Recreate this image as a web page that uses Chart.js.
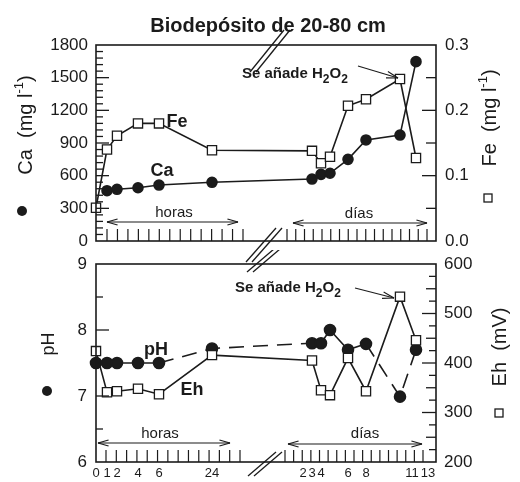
<!DOCTYPE html>
<html>
<head>
<meta charset="utf-8">
<script src="https://cdn.jsdelivr.net/npm/chart.js@4.4.1/dist/chart.umd.min.js"></script>
<style>
  html, body { margin: 0; padding: 0; background: #fff; }
  #lienzo { position: relative; width: 520px; height: 482px; }
  canvas { position: absolute; left: 0; }
  #arriba { top: 0; }
  #abajo { top: 250px; }
</style>
</head>
<body>
<div id="lienzo">
  <canvas id="arriba" width="520" height="266"></canvas>
  <canvas id="abajo" width="520" height="232"></canvas>
</div>
<script>
// tiempos de muestreo
const horasMuestra = [0, 1, 2, 4, 6, 24];
const diasMuestra = [3, 4, 5, 6, 8, 10, 11.5];

// Ca (mg l-1) y Fe (mg l-1)
const caHoras = [null, 462, 475, 489, 514, 539];
const caDias = [569, 612, 622, 750, 928, 973, 1647];
const feHoras = [0.051, 0.140, 0.161, 0.180, 0.180, 0.139];
const feDias = [0.138, 0.119, 0.129, 0.207, 0.217, 0.248, 0.127];

// pH y Eh (mV)
const phHoras = [7.5, 7.5, 7.5, 7.5, 7.5, 7.72];
const phDias = [7.80, 7.80, 8.0, 7.70, 7.79, 6.99, 7.70];
const ehHoras = [424, 341, 343, 348, 337, 416];
const ehDias = [405, 345, 335, 410, 343, 534, 446];

// etiquetas del eje x
const marcasHoras = [0, 1, 2, 4, 6, 24];
const marcasDias = [2, 3, 4, 6, 8, 11, 13];

// eje x partido: tiempo en horas -> posicion a lo largo del eje (0..340)
const nudosHoras = [0, 1, 2, 4, 6, 24, 48, 72, 96, 120, 144, 192, 240, 264, 312, 323];
const nudosPos = [0, 11, 21, 42, 63, 116, 207, 216, 225, 234, 252, 270, 304, 316, 332, 340];

const tinta = '#1b1b1b';
const familia = "'Liberation Sans', Arial, Helvetica, sans-serif";
Chart.defaults.font.family = familia;
Chart.defaults.color = tinta;

function fraccion(h) {
  const n = nudosHoras.length;
  if (h <= nudosHoras[0]) return 0;
  for (let i = 1; i < n; i++) {
    if (h <= nudosHoras[i]) {
      const t = (h - nudosHoras[i - 1]) / (nudosHoras[i] - nudosHoras[i - 1]);
      return (nudosPos[i - 1] + t * (nudosPos[i] - nudosPos[i - 1])) / nudosPos[n - 1];
    }
  }
  return 1;
}

class EjePartido extends Chart.LinearScale {
  buildTicks() {
    return marcasHoras.concat(marcasDias.map(d => d * 24)).map(v => ({ value: v }));
  }
  getPixelForValue(v) {
    return this.left + this.width * fraccion(v);
  }
  getValueForPixel(p) {
    const f = (p - this.left) / this.width * nudosPos[nudosPos.length - 1];
    for (let i = 1; i < nudosPos.length; i++) {
      if (f <= nudosPos[i]) {
        const t = (f - nudosPos[i - 1]) / (nudosPos[i] - nudosPos[i - 1]);
        return nudosHoras[i - 1] + t * (nudosHoras[i] - nudosHoras[i - 1]);
      }
    }
    return nudosHoras[nudosHoras.length - 1];
  }
}
EjePartido.id = 'partido';
EjePartido.defaults = {};
Chart.register(EjePartido);

const etiquetasX = marcasHoras.concat(marcasDias).map(String);

function serie(valHoras, valDias) {
  const pts = [];
  horasMuestra.forEach((h, i) => {
    if (valHoras[i] !== null) pts.push({ x: h, y: valHoras[i] });
  });
  diasMuestra.forEach((d, i) => pts.push({ x: d * 24, y: valDias[i] }));
  return pts;
}

// ---- dibujo auxiliar ----
function linea(ctx, x0, y0, x1, y1) {
  ctx.beginPath();
  ctx.moveTo(x0, y0);
  ctx.lineTo(x1, y1);
  ctx.stroke();
}

function punta(ctx, xd, yd, x, y, largo) {
  const ang = Math.atan2(y - yd, x - xd);
  for (const s of [-1, 1]) {
    linea(ctx, x, y, x - largo * Math.cos(ang + s * 0.28), y - largo * Math.sin(ang + s * 0.28));
  }
}

function flechaDoble(ctx, x0, x1, y) {
  ctx.lineWidth = 1.2;
  linea(ctx, x0, y, x1, y);
  punta(ctx, x1, y, x0, y, 11);
  punta(ctx, x0, y, x1, y, 11);
}

function partes(ctx, trozos, x, y, centrar) {
  let ancho = 0;
  trozos.forEach(p => {
    ctx.font = (p[3] ? 'bold ' : '') + p[1] + 'px ' + familia;
    ancho += ctx.measureText(p[0]).width;
  });
  let cx = centrar ? x - ancho / 2 : x;
  ctx.textAlign = 'left';
  trozos.forEach(p => {
    ctx.font = (p[3] ? 'bold ' : '') + p[1] + 'px ' + familia;
    ctx.fillText(p[0], cx, y + p[2]);
    cx += ctx.measureText(p[0]).width;
  });
}

function vertical(ctx, trozos, cx, cy) {
  ctx.save();
  ctx.translate(cx, cy);
  ctx.rotate(-Math.PI / 2);
  ctx.textBaseline = 'middle';
  partes(ctx, trozos, 0, 0, true);
  ctx.restore();
}

function h2o2(ctx, x, y) {
  ctx.textBaseline = 'alphabetic';
  partes(ctx, [['Se añade H', 15, 0, true], ['2', 12, 5, true], ['O', 15, 0, true], ['2', 12, 5, true]], x, y, false);
}

function marcasInteriores(ctx, a, escala, izquierda, paso, largo) {
  const n = Math.round((escala.max - escala.min) / paso);
  ctx.lineWidth = 1.3;
  for (let i = 1; i < n; i++) {
    const v = escala.min + i * paso;
    const y = escala.getPixelForValue(v);
    const l = largo(v);
    if (izquierda) linea(ctx, a.left, y, a.left + l, y);
    else linea(ctx, a.right, y, a.right - l, y);
  }
}

function regla(ctx, a, x0, x1, n) {
  ctx.lineWidth = 1.2;
  for (let i = 0; i < n; i++) {
    const x = x0 + i * (x1 - x0) / (n - 1);
    linea(ctx, x, a.bottom, x, a.bottom - 12);
  }
}

function corte(ctx, x0, y0, x1, y1) {
  ctx.lineWidth = 1.3;
  linea(ctx, x0, y0, x1, y1);
  linea(ctx, x0 + 6, y0, x1 + 6, y1);
}

function esMultiplo(v, m) {
  return Math.abs(v / m - Math.round(v / m)) < 1e-6;
}

const panelArriba = {
  id: 'panelArriba',
  afterDraw(chart) {
    const ctx = chart.ctx;
    const a = chart.chartArea;
    ctx.save();
    ctx.strokeStyle = tinta;
    ctx.fillStyle = tinta;
    ctx.lineWidth = 1.6;
    ctx.strokeRect(a.left, a.top, a.right - a.left, a.bottom - a.top);

    marcasInteriores(ctx, a, chart.scales.yCa, true, 60, v => esMultiplo(v, 300) ? 13 : 7);
    marcasInteriores(ctx, a, chart.scales.yFe, false, 0.05, v => esMultiplo(v, 0.1) ? 14 : 10);
    regla(ctx, a, 107, 243, 14);
    regla(ctx, a, 287, 427, 17);

    flechaDoble(ctx, 107, 238, 222);
    flechaDoble(ctx, 293, 427, 223);
    ctx.textBaseline = 'middle';
    ctx.textAlign = 'center';
    ctx.font = '15px ' + familia;
    ctx.fillText('horas', 174, 213);
    ctx.fillText('días', 359, 214);

    corte(ctx, 250, 72, 284, 30);
    corte(ctx, 246, 262, 276, 228);

    // titulo
    ctx.font = 'bold 20px ' + familia;
    ctx.textAlign = 'center';
    ctx.textBaseline = 'alphabetic';
    ctx.fillText('Biodepósito de 20-80 cm', 268, 32);

    // nombres de series dentro del panel
    ctx.font = 'bold 18px ' + familia;
    ctx.textBaseline = 'middle';
    ctx.fillText('Fe', 177, 122);
    ctx.fillText('Ca', 162, 171);

    h2o2(ctx, 242, 78);
    ctx.lineWidth = 1.1;
    linea(ctx, 358, 66, 398, 78);
    punta(ctx, 358, 66, 398, 78, 12);

    // titulos de ejes
    vertical(ctx, [['Ca  (mg l', 20, 0, false], ['-1', 13, -7, false], [')', 20, 0, false]], 26, 125);
    vertical(ctx, [['Fe  (mg l', 20, 0, false], ['-1', 13, -7, false], [')', 20, 0, false]], 490, 118);
    ctx.beginPath();
    ctx.arc(22, 211, 5, 0, Math.PI * 2);
    ctx.fill();
    ctx.lineWidth = 1.3;
    ctx.strokeRect(484, 194, 8, 8);
    ctx.restore();
  }
};

const panelAbajo = {
  id: 'panelAbajo',
  afterDraw(chart) {
    const ctx = chart.ctx;
    const a = chart.chartArea;
    const dy = -250;
    ctx.save();
    ctx.strokeStyle = tinta;
    ctx.fillStyle = tinta;
    ctx.lineWidth = 1.6;
    ctx.strokeRect(a.left, a.top, a.right - a.left, a.bottom - a.top);

    marcasInteriores(ctx, a, chart.scales.yPh, true, 0.5, v => esMultiplo(v, 1) ? 13 : 7);
    marcasInteriores(ctx, a, chart.scales.yEh, false, 25, v => esMultiplo(v, 100) ? 14 : (esMultiplo(v, 50) ? 10 : 7));
    regla(ctx, a, 106, 240, 14);
    regla(ctx, a, 285, 423, 17);

    flechaDoble(ctx, 98, 230, 443 + dy);
    flechaDoble(ctx, 288, 422, 444 + dy);
    ctx.textBaseline = 'middle';
    ctx.textAlign = 'center';
    ctx.font = '15px ' + familia;
    ctx.fillText('horas', 160, 434 + dy);
    ctx.fillText('días', 365, 434 + dy);

    corte(ctx, 247, 272 + dy, 274, 249 + dy);
    corte(ctx, 248, 476 + dy, 276, 452 + dy);

    ctx.font = 'bold 18px ' + familia;
    ctx.textBaseline = 'middle';
    ctx.textAlign = 'center';
    ctx.fillText('pH', 156, 350 + dy);
    ctx.fillText('Eh', 192, 390 + dy);

    h2o2(ctx, 235, 292 + dy);
    ctx.lineWidth = 1.1;
    linea(ctx, 355, 288 + dy, 394, 298 + dy);
    punta(ctx, 355, 288 + dy, 394, 298 + dy, 12);

    vertical(ctx, [['pH', 18, 0, false]], 49, 344 + dy);
    vertical(ctx, [['Eh  (mV)', 20, 0, false]], 500, 347 + dy);
    ctx.beginPath();
    ctx.arc(47, 391 + dy, 5, 0, Math.PI * 2);
    ctx.fill();
    ctx.lineWidth = 1.3;
    ctx.strokeRect(495, 409 + dy, 8, 8);
    ctx.restore();
  }
};

const estiloCirculo = {
  borderColor: tinta, borderWidth: 1.6, clip: false,
  pointStyle: 'circle', pointRadius: 5,
  pointBackgroundColor: tinta, pointBorderColor: tinta
};
const estiloCuadro = {
  borderColor: tinta, borderWidth: 1.6, clip: false,
  pointStyle: 'rect', pointRadius: 6.5, pointBorderWidth: 1.3,
  pointBackgroundColor: '#fff', pointBorderColor: tinta
};

const ejeY = (pos, min, max, paso, ancho, relleno) => ({
  type: 'linear', position: pos, min: min, max: max,
  ticks: { stepSize: paso, font: { size: 17 }, padding: relleno, callback: v => String(v) },
  grid: { display: false, drawTicks: false }, border: { display: false },
  afterFit: s => { s.width = ancho; s.paddingTop = 0; s.paddingBottom = 0; }
});

const comunes = {
  responsive: false,
  animation: false,
  events: [],
  plugins: { legend: { display: false }, tooltip: { enabled: false } }
};

const yFe = ejeY('right', 0, 0.3, 0.1, 84, 9);
yFe.ticks.callback = v => v.toFixed(1);

new Chart('arriba', {
  type: 'line',
  data: {
    datasets: [
      Object.assign({ label: 'Fe', data: serie(feHoras, feDias), yAxisID: 'yFe' }, estiloCuadro),
      Object.assign({ label: 'Ca', data: serie(caHoras, caDias), yAxisID: 'yCa' }, estiloCirculo)
    ]
  },
  options: Object.assign({}, comunes, {
    layout: { padding: { top: 45, left: 0, right: 0, bottom: 0 } },
    scales: {
      x: {
        type: 'partido', min: 0, max: 323,
        ticks: { display: false }, grid: { display: false, drawTicks: false }, border: { display: false },
        afterFit: s => { s.height = 25; }
      },
      yCa: ejeY('left', 0, 1800, 300, 96, 8),
      yFe: yFe
    }
  }),
  plugins: [panelArriba]
});

// tramos de pH con trazo discontinuo (indice del punto inicial)
const phTramosDiscontinuos = [4, 5, 10, 11];

new Chart('abajo', {
  type: 'line',
  data: {
    datasets: [
      Object.assign({ label: 'Eh', data: serie(ehHoras, ehDias), yAxisID: 'yEh' }, estiloCuadro),
      Object.assign({
        label: 'pH', data: serie(phHoras, phDias), yAxisID: 'yPh',
        segment: { borderDash: c => phTramosDiscontinuos.includes(c.p0DataIndex) ? [15, 9] : undefined }
      }, estiloCirculo, { pointRadius: 5.5 })
    ]
  },
  options: Object.assign({}, comunes, {
    layout: { padding: { top: 14, left: 0, right: 0, bottom: 0 } },
    scales: {
      x: {
        type: 'partido', min: 0, max: 323,
        ticks: {
          autoSkip: false, maxRotation: 0, minRotation: 0, padding: 4,
          font: { size: 13 }, callback: (v, i) => etiquetasX[i]
        },
        grid: { display: false, drawTicks: false }, border: { display: false },
        afterFit: s => { s.height = 20; }
      },
      yPh: ejeY('left', 6, 9, 1, 96, 9),
      yEh: ejeY('right', 200, 600, 100, 84, 8)
    }
  }),
  plugins: [panelAbajo]
});
</script>
</body>
</html>
